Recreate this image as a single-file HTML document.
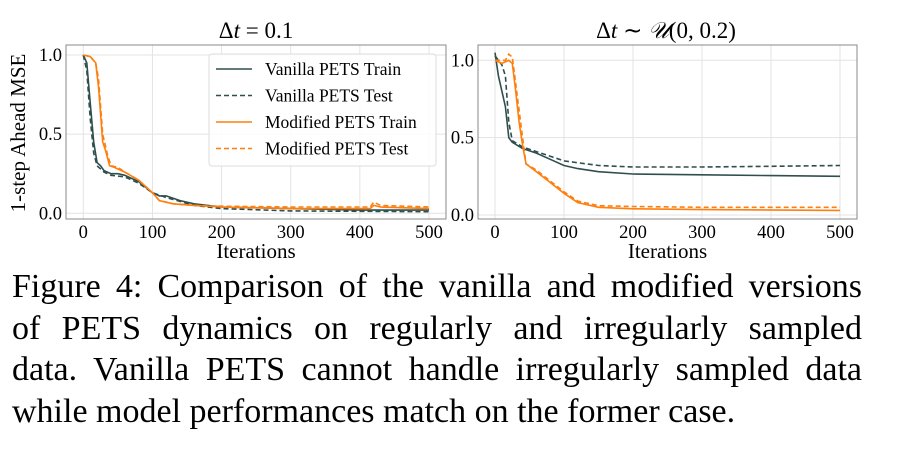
<!DOCTYPE html>
<html><head><meta charset="utf-8"><style>
body{margin:0;background:#fff;width:923px;height:462px;overflow:hidden;font-family:"Liberation Serif",serif}
svg{position:absolute;left:0;top:0}
.cap{position:absolute;left:12px;width:850px;font-size:34px;line-height:41.5px;top:266px;color:#000}
.cap div{text-align:justify;text-align-last:justify;white-space:nowrap}
.cap div.last{text-align-last:left}
</style></head><body>
<svg width="923" height="262" id="fig"></svg>
<div class="cap">
<div>Figure 4: Comparison of the vanilla and modified versions</div>
<div>of PETS dynamics on regularly and irregularly sampled</div>
<div>data. Vanilla PETS cannot handle irregularly sampled data</div>
<div class="last">while model performances match on the former case.</div>
</div>
<script>
const xTicks=[0,100,200,300,400,500];
const yTicks=[0.0,0.5,1.0];
const yTickLabels=["0.0","0.5","1.0"];
const L_vt_x=[0,5,10,15,20,25,30,40,50,60,80,100,110,120,140,160,200,300,400,500];
const L_vt_y=[1.0,0.95,0.7,0.45,0.32,0.3,0.27,0.25,0.25,0.24,0.2,0.13,0.11,0.11,0.08,0.06,0.04,0.03,0.02,0.02];
const L_ve_x=[0,5,10,15,20,30,40,60,80,100,120,160,200,300,500];
const L_ve_y=[1.0,0.9,0.6,0.38,0.3,0.26,0.24,0.23,0.19,0.13,0.1,0.05,0.03,0.015,0.01];
const L_mt_x=[0,10,18,22,28,32,38,45,50,60,80,100,110,130,160,200,300,415,420,430,500];
const L_mt_y=[1.0,0.99,0.95,0.8,0.45,0.4,0.3,0.29,0.28,0.26,0.21,0.13,0.08,0.06,0.05,0.04,0.03,0.03,0.05,0.04,0.03];
const L_me_x=[0,10,18,22,28,35,40,50,60,80,100,110,130,160,200,300,415,420,430,500];
const L_me_y=[1.0,0.99,0.95,0.85,0.5,0.37,0.3,0.29,0.26,0.21,0.13,0.08,0.06,0.05,0.045,0.04,0.04,0.07,0.05,0.04];
const R_vt_x=[0,5,10,15,20,25,40,60,80,100,120,150,200,300,400,500];
const R_vt_y=[1.05,0.9,0.8,0.7,0.5,0.47,0.43,0.4,0.36,0.32,0.3,0.28,0.265,0.26,0.255,0.25];
const R_ve_x=[0,10,15,20,25,40,60,80,100,150,200,300,400,500];
const R_ve_y=[1.03,0.97,0.9,0.6,0.48,0.44,0.41,0.38,0.35,0.32,0.31,0.31,0.315,0.32];
const R_mt_x=[0,10,20,25,30,35,40,45,60,80,100,120,150,200,300,500];
const R_mt_y=[1.0,0.98,1.0,0.98,0.8,0.6,0.45,0.33,0.28,0.21,0.14,0.08,0.05,0.04,0.035,0.03];
const R_me_x=[0,10,15,20,25,30,40,45,60,80,100,120,150,200,300,500];
const R_me_y=[1.0,1.0,1.0,1.04,1.02,0.85,0.5,0.33,0.29,0.22,0.15,0.09,0.06,0.055,0.05,0.05];

const NS="http://www.w3.org/2000/svg";
const svg=document.getElementById('fig');
function mk(tag,attrs,parent){const e=document.createElementNS(NS,tag);for(const k in attrs)e.setAttribute(k,attrs[k]);(parent||svg).appendChild(e);return e;}
const DARK="#2f4f4f",ORG="#ff7f0e";
function panel(p,series,name){
  const g=mk('g',{});
  
  
  const sx=v=>p.x0+(v/500)*(p.x5-p.x0);
  const sy=v=>p.y0+(v)*(p.y1-p.y0);
  xTicks.forEach(t=>{const l=mk('line',{x1:sx(t),x2:sx(t),y1:p.top,y2:p.bot,stroke:'#e3e3e3','stroke-width':1},g);
    
    const tx=mk('text',{x:sx(t),y:p.bot+19,'text-anchor':'middle','font-size':18.5},g);tx.textContent=t;
    });
  yTicks.forEach((t,i)=>{const l=mk('line',{x1:p.left,x2:p.right,y1:sy(t),y2:sy(t),stroke:'#e3e3e3','stroke-width':1},g);
    
    const tx=mk('text',{x:p.left-4,y:sy(t)+6,'text-anchor':'end','font-size':18.5},g);tx.textContent=yTickLabels[i];
    });
  series.forEach(s=>{const d=s.x.map((v,i)=>(i?'L':'M')+sx(v).toFixed(1)+','+sy(s.y[i]).toFixed(1)).join('');
    const pa=mk('path',{d:d,fill:'none',stroke:s.c,'stroke-width':1.6,'stroke-dasharray':s.dash?'5,3':'none'},g);
    });
  const r=mk('rect',{x:p.left,y:p.top,width:p.right-p.left,height:p.bot-p.top,fill:'none',stroke:'#888','stroke-width':1},g);
  
  const xl=mk('text',{x:(p.left+p.right)/2,y:p.bot+39,'text-anchor':'middle','font-size':21},g);xl.textContent='Iterations';
  
  return g;
}
panel({x0:83.3,x5:429,y0:213.3,y1:55,left:66,right:446,top:45,bot:219},[
 {x:L_vt_x,y:L_vt_y,c:DARK,n:'vanilla-train-line'},{x:L_ve_x,y:L_ve_y,c:DARK,dash:1,n:'vanilla-test-line'},
 {x:L_mt_x,y:L_mt_y,c:ORG,n:'modified-train-line'},{x:L_me_x,y:L_me_y,c:ORG,dash:1,n:'modified-test-line'}],'left-chart');
panel({x0:495,x5:840,y0:215,y1:60.3,left:478,right:857,top:45,bot:219},[
 {x:R_vt_x,y:R_vt_y,c:DARK,n:'vanilla-train-line'},{x:R_ve_x,y:R_ve_y,c:DARK,dash:1,n:'vanilla-test-line'},
 {x:R_mt_x,y:R_mt_y,c:ORG,n:'modified-train-line'},{x:R_me_x,y:R_me_y,c:ORG,dash:1,n:'modified-test-line'}],'right-chart');
let t=mk('text',{x:256,y:38,'text-anchor':'middle','font-size':23});t.innerHTML='Δ<tspan font-style="italic">t</tspan> = 0.1';

t=mk('text',{x:666,y:38,'text-anchor':'middle','font-size':23});t.innerHTML='Δ<tspan font-style="italic">t</tspan> ∼ <tspan font-style="italic">𝒰</tspan>(0, 0.2)';

t=mk('text',{x:0,y:0,'text-anchor':'middle','font-size':21,transform:'translate(25,133) rotate(-90)'});t.textContent='1-step Ahead MSE';

const lg=mk('g',{});


mk('rect',{x:209,y:54,width:227,height:112,fill:'#fff','fill-opacity':0.85,stroke:'#ddd',rx:3},lg);
const leg=[['Vanilla PETS Train',DARK,0],['Vanilla PETS Test',DARK,1],['Modified PETS Train',ORG,0],['Modified PETS Test',ORG,1]];
leg.forEach((e,i)=>{const y=69+i*26.5;
  const l=mk('line',{x1:216,x2:252,y1:y,y2:y,stroke:e[1],'stroke-width':1.6,'stroke-dasharray':e[2]?'5,3':'none'},lg);
  
  const tx=mk('text',{x:265,y:y+6,'font-size':17.5},lg);tx.textContent=e[0];
  });
</script>
</body></html>
